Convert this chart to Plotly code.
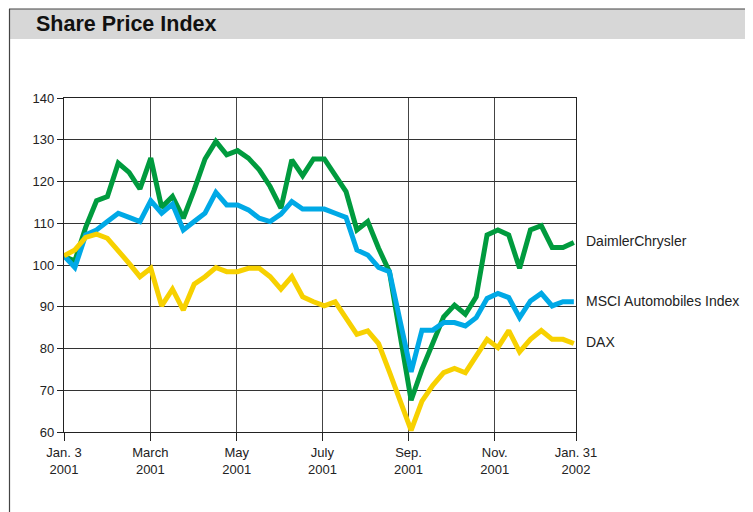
import plotly.graph_objects as go

# weekly points, Jan 3 2001 - Jan 31 2002
daimler = [102, 101, 109, 115.4, 116.4, 124.4, 122.2, 118.2, 125.6, 113.8,
           116.4, 111.2, 118, 125.4, 129.6, 126.4, 127.4, 125.6, 122.8, 118.8,
           113.6, 125.2, 121.4, 125.4, 125.4, 121.6, 117.6, 108.4, 110.4, 104,
           98.4, 83, 67.6, 75, 81, 87.6, 90.4, 88.2, 92.4, 107.2,
           108.4, 107.2, 99.2, 108.4, 109.4, 104.2, 104.2, 105.4]
msci = [102.2, 99.4, 107.2, 108.4, 110.4, 112.4, 111.4, 110.4, 115.4, 112.4,
        114.6, 108.4, 110.4, 112.4, 117.4, 114.4, 114.4, 113.2, 111.2, 110.4,
        112.2, 115.2, 113.4, 113.4, 113.4, 112.4, 111.4, 103.6, 102.4, 99.4,
        98.4, 86.4, 74.4, 84.4, 84.4, 86.2, 86.2, 85.4, 87.4, 92,
        93.2, 92.2, 87.4, 91.4, 93.2, 90.2, 91.2, 91.2]
dax = [102.2, 103.6, 106.6, 107.4, 106.4, 103.6, 100.4, 97.2, 99.2, 90.2,
       94.2, 89.2, 95.4, 97.2, 99.4, 98.4, 98.4, 99.2, 99.2, 97.2,
       94.2, 97.2, 92.4, 91.2, 90.2, 91.2, 87.2, 83.4, 84.2, 81.2,
       74.4, 67.6, 60.4, 67.4, 71.2, 74.2, 75.2, 74.2, 78.4, 82.2,
       80.2, 84.3, 79.2, 82.2, 84.3, 82.2, 82.2, 81.2]
weeks = list(range(len(daimler)))

tick_labels = ["Jan. 3<br>2001", "March<br>2001", "May<br>2001", "July<br>2001",
               "Sep.<br>2001", "Nov.<br>2001", "Jan. 31<br>2002"]
tick_weeks = [0, 7.96, 15.92, 23.82, 31.76, 39.7, 47.2]

series = [("DaimlerChrysler", daimler, "#009B3E"),
          ("MSCI Automobiles Index", msci, "#00A9E6"),
          ("DAX", dax, "#F7D100")]

# the page puts the figure 8px in from the top-left corner
OFF = 8
W, H = 753, 512
ML, MT = 64 - OFF, 98 - OFF
pw, ph = 512, 334
MR, MB = W - ML - pw, H - MT - ph


def px(x):
    return (x - OFF - ML) / pw


def py(y):
    return (MT + ph - (y - OFF)) / ph


fig = go.Figure()
for name, vals, col in series:
    fig.add_trace(go.Scatter(x=weeks, y=vals, mode="lines", name=name,
                             line=dict(color=col, width=5)))

for name, vals, col in series:
    fig.add_annotation(x=weeks[-1], y=vals[-1], text=name, showarrow=False,
                       xanchor="left", xshift=10, yshift=1,
                       font=dict(size=14, color="#222"))

fig.add_annotation(x=px(34), y=py(24), xref="paper", yref="paper",
                   text="<b>Share Price Index</b>", showarrow=False,
                   xanchor="left", yanchor="middle",
                   font=dict(size=21.5, color="#111"))

fig.update_layout(
    width=W, height=H, showlegend=False,
    margin=dict(l=ML, r=MR, t=MT, b=MB),
    paper_bgcolor="white", plot_bgcolor="white",
    font=dict(family="Liberation Sans, Arial, sans-serif", size=13, color="#222"),
    shapes=[
        dict(type="rect", xref="paper", yref="paper", x0=px(9), x1=px(770),
             y0=py(9), y1=py(39), fillcolor="#D7D7D7", line=dict(width=0),
             layer="below"),
        dict(type="line", xref="paper", yref="paper", x0=px(9), x1=px(770),
             y0=py(9), y1=py(9), line=dict(color="#444", width=1.2)),
        dict(type="line", xref="paper", yref="paper", x0=px(9.5), x1=px(9.5),
             y0=py(9), y1=py(530), line=dict(color="#444", width=1.2)),
    ],
)
fig.update_xaxes(range=[0, 47.2], tickmode="array", tickvals=tick_weeks,
                 ticktext=tick_labels, ticks="outside", ticklen=8,
                 tickcolor="#222", showgrid=True, gridcolor="#444", gridwidth=1.2,
                 showline=True, linecolor="#222", linewidth=1.2, mirror=True,
                 zeroline=False, tickfont=dict(size=13))
fig.update_yaxes(range=[60, 140], dtick=10, ticks="outside", ticklen=6,
                 tickcolor="#222", showgrid=True, gridcolor="#333", gridwidth=1.2,
                 showline=True, linecolor="#222", linewidth=1.2, mirror=True,
                 zeroline=False, tickfont=dict(size=13))

fig.write_html("out.html")
